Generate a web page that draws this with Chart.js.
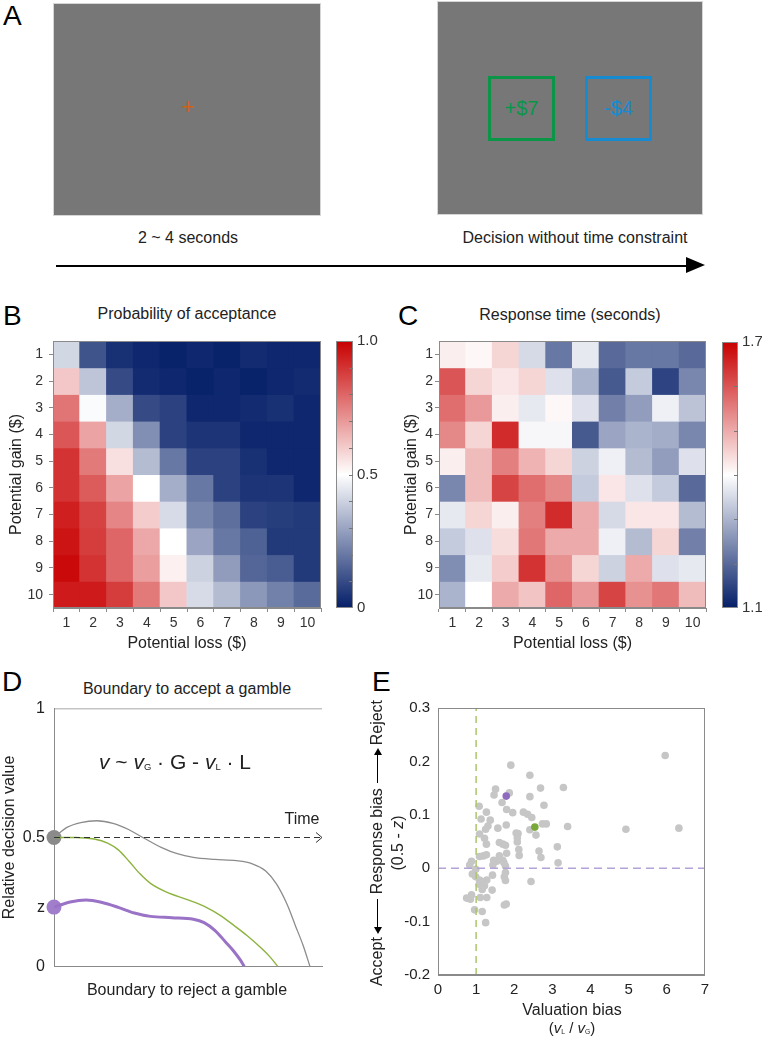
<!DOCTYPE html>
<html>
<head>
<meta charset="utf-8">
<title>Gamble task figure</title>
<script src="https://cdn.jsdelivr.net/npm/chart.js"></script>
<style>
  body { margin: 0; background: #fff; font-family: 'Liberation Sans', Arial, sans-serif; color: #222; }
  #fig { position: relative; width: 762px; height: 1040px; overflow: hidden; background: #fff; }
  canvas { position: absolute; }
  .t { position: absolute; line-height: 1; white-space: nowrap; text-align: center; }
  .letter { position: absolute; font-size: 28px; line-height: 1; color: #000; }
  .screen { position: absolute; background: #777; border: 1px solid #d6d6d6; box-sizing: border-box; }
  .box { position: absolute; box-sizing: border-box; border: 3px solid; font-size: 20px; display: flex; align-items: center; justify-content: center; }
  .rot { position: absolute; width: 320px; height: 20px; line-height: 20px; font-size: 16px; text-align: center; white-space: nowrap; transform: rotate(-90deg); }
  .arr { display: inline-block; position: relative; width: 33px; height: 1.4px; background: #000; vertical-align: middle; margin: 0 5px; }
  .arr.l::before { content: ''; position: absolute; left: -2px; top: -3.3px; border-right: 7px solid #000; border-top: 4px solid transparent; border-bottom: 4px solid transparent; }
  .arr.r::after { content: ''; position: absolute; right: -2px; top: -3.3px; border-left: 7px solid #000; border-top: 4px solid transparent; border-bottom: 4px solid transparent; }
  sub { font-size: 0.45em; vertical-align: baseline; position: relative; top: 0.1em; }
</style>
</head>
<body>
<div id="fig">
  <!-- A: task screens -->
  <div class="letter" style="left:3px;top:2px">A</div>
  <div class="screen" style="left:53px;top:3px;width:268px;height:213px"></div>
  <div class="t" style="left:168px;top:96px;width:40px;font-size:22px;color:#d0620e">+</div>
  <div class="screen" style="left:437px;top:1px;width:266px;height:214px"></div>
  <div class="box" style="left:488px;top:76px;width:67px;height:65px;border-color:#0b9647;color:#0b9647">+$7</div>
  <div class="box" style="left:585px;top:76px;width:67px;height:65px;border-color:#168bd2;color:#168bd2">-$4</div>
  <div class="t" style="left:88px;top:230px;width:200px;font-size:16px">2 ~ 4 seconds</div>
  <div class="t" style="left:425px;top:230px;width:300px;font-size:16px">Decision without time constraint</div>
  <div style="position:absolute;left:56px;top:264.5px;width:632px;height:2px;background:#000"></div>
  <div style="position:absolute;left:686px;top:257px;width:0;height:0;border-left:19px solid #000;border-top:8.5px solid transparent;border-bottom:8.5px solid transparent"></div>

  <!-- B / C headings -->
  <div class="letter" style="left:3px;top:302px">B</div>
  <div class="t" style="left:37px;top:306px;width:300px;font-size:16px">Probability of acceptance</div>
  <div class="letter" style="left:398px;top:302px">C</div>
  <div class="t" style="left:420px;top:307px;width:300px;font-size:16px">Response time (seconds)</div>

  <canvas id="heatB" width="323" height="330" style="left:0;top:325px"></canvas>
  <canvas id="barB" width="60" height="300" style="left:326px;top:325px"></canvas>
  <canvas id="heatC" width="328" height="330" style="left:380px;top:325px"></canvas>
  <canvas id="barC" width="50" height="300" style="left:712px;top:325px"></canvas>

  <!-- D -->
  <div class="letter" style="left:2px;top:668px">D</div>
  <div class="t" style="left:37px;top:681px;width:300px;font-size:16px">Boundary to accept a gamble</div>
  <canvas id="chartD" width="330" height="295" style="left:0;top:690px"></canvas>
  <div class="t" style="left:75px;top:750px;width:200px;font-size:21px;line-height:24px"><i>v</i> ~ <i>v</i><sub>G</sub> · G - <i>v</i><sub>L</sub> · L</div>
  <div class="t" style="left:262px;top:811px;width:80px;font-size:16px">Time</div>
  <div class="t" style="left:37px;top:982px;width:300px;font-size:16px">Boundary to reject a gamble</div>

  <!-- E -->
  <div class="letter" style="left:372px;top:668px">E</div>
  <canvas id="chartE" width="335" height="320" style="left:380px;top:690px"></canvas>
  <div class="rot" style="left:217px;top:833px">Accept<span class="arr l"></span>Response bias<span class="arr r"></span>Reject</div>
  <div class="rot" style="left:238px;top:833px">(0.5 - <i>z</i>)</div>
  <div class="t" style="left:472px;top:1002px;width:200px;font-size:16px">Valuation bias</div>
  <div class="t" style="left:472px;top:1020px;width:200px;font-size:15px">(<i>v</i><sub>L</sub> / <i>v</i><sub>G</sub>)</div>
</div>

<script>
// ---- data ----
const losses = ['1', '2', '3', '4', '5', '6', '7', '8', '9', '10'];
const gains = ['1', '2', '3', '4', '5', '6', '7', '8', '9', '10'];

// rows = potential gain 1..10, columns = potential loss 1..10
const acceptProb = [
  [0.41, 0.12, 0.04, 0.02, 0.01, 0.02, 0.01, 0.03, 0.02, 0.02],
  [0.61, 0.37, 0.10, 0.03, 0.02, 0.01, 0.02, 0.01, 0.02, 0.03],
  [0.77, 0.49, 0.32, 0.10, 0.08, 0.02, 0.02, 0.03, 0.04, 0.02],
  [0.83, 0.68, 0.41, 0.25, 0.08, 0.05, 0.05, 0.02, 0.02, 0.02],
  [0.90, 0.76, 0.56, 0.35, 0.20, 0.08, 0.08, 0.04, 0.02, 0.02],
  [0.90, 0.82, 0.68, 0.50, 0.32, 0.20, 0.08, 0.05, 0.05, 0.02],
  [0.94, 0.87, 0.74, 0.60, 0.42, 0.23, 0.18, 0.08, 0.07, 0.06],
  [0.96, 0.88, 0.80, 0.67, 0.50, 0.30, 0.20, 0.15, 0.06, 0.06],
  [0.98, 0.90, 0.80, 0.69, 0.53, 0.40, 0.28, 0.16, 0.14, 0.06],
  [0.95, 0.95, 0.88, 0.76, 0.61, 0.42, 0.35, 0.27, 0.22, 0.17]
];
const responseTime = [
  [1.42, 1.41, 1.45, 1.35, 1.22, 1.37, 1.20, 1.22, 1.22, 1.20],
  [1.60, 1.45, 1.43, 1.45, 1.36, 1.30, 1.18, 1.33, 1.15, 1.24],
  [1.57, 1.52, 1.42, 1.37, 1.41, 1.36, 1.23, 1.27, 1.38, 1.32],
  [1.54, 1.45, 1.65, 1.39, 1.39, 1.18, 1.28, 1.30, 1.29, 1.24],
  [1.42, 1.48, 1.55, 1.49, 1.45, 1.34, 1.38, 1.31, 1.27, 1.36],
  [1.24, 1.48, 1.62, 1.57, 1.54, 1.33, 1.43, 1.36, 1.33, 1.20],
  [1.37, 1.45, 1.42, 1.55, 1.65, 1.50, 1.35, 1.43, 1.43, 1.31],
  [1.33, 1.36, 1.44, 1.56, 1.50, 1.50, 1.38, 1.31, 1.45, 1.23],
  [1.25, 1.37, 1.46, 1.64, 1.53, 1.45, 1.34, 1.50, 1.36, 1.37],
  [1.30, 1.40, 1.50, 1.47, 1.58, 1.52, 1.62, 1.53, 1.56, 1.48]
];
const accLimits = [0, 1];
const accBarTicks = [0, 0.5, 1];
const accBarLabels = ['0', '0.5', '1.0'];
const accBarMinor = [0.1, 0.2, 0.3, 0.4, 0.5, 0.6, 0.7, 0.8, 0.9];
const rtLimits = [1.1, 1.7];
const rtBarTicks = [1.1, 1.7];
const rtBarLabels = ['1.1', '1.7'];
const rtBarMinor = [1.2, 1.3, 1.4, 1.5, 1.6];

// D: schematic drift paths, x = time (0..100), y = relative decision value
const zStart = 0.23;
const decisionTicks = [0, zStart, 0.5, 1];
const decisionLabels = ['0', 'z', '0.5', '1'];
const acceptBound = [[0, 1], [100, 1]];
const timeArrow = [[0, 0.5], [100, 0.5]];
const greyPath = [[0, 0.5], [5, 0.54], [10, 0.558], [16, 0.565], [22, 0.555], [28, 0.53], [34, 0.495],
  [40, 0.462], [46, 0.437], [52, 0.423], [60, 0.415], [68, 0.41], [74, 0.398], [79, 0.37],
  [83, 0.32], [87, 0.24], [90, 0.16], [93, 0.08], [95.5, 0]];
const greenPath = [[0, 0.5], [8, 0.5], [15, 0.494], [20, 0.478], [24, 0.452], [28, 0.408], [32, 0.36],
  [36, 0.322], [42, 0.288], [50, 0.258], [57, 0.228], [62, 0.198], [67, 0.16], [72, 0.12],
  [77, 0.074], [80.5, 0.038], [83.5, 0]];
const purplePath = [[0, zStart], [6, 0.25], [12, 0.258], [18, 0.248], [24, 0.229], [30, 0.207], [36, 0.194],
  [44, 0.189], [52, 0.183], [56, 0.17], [60, 0.14], [64, 0.095], [67, 0.06], [69.5, 0.025], [71, 0]];
const greyStart = [[0, 0.5]];
const purpleStart = [[0, zStart]];

// E: valuation bias (x) vs response bias (y) per participant
const participants = [
  [5.96, 0.211], [1.91, 0.193], [2.41, 0.174], [1.51, 0.148], [2.69, 0.150], [3.29, 0.151], [1.87, 0.141],
  [1.47, 0.137], [2.41, 0.134], [1.68, 0.123], [2.78, 0.118], [1.08, 0.116], [1.80, 0.110], [1.27, 0.105],
  [1.96, 0.104], [2.24, 0.105], [2.35, 0.101], [2.46, 0.095], [1.13, 0.092], [1.37, 0.090], [1.31, 0.079],
  [1.79, 0.081], [2.74, 0.083], [2.84, 0.083], [3.40, 0.078], [1.25, 0.073], [1.57, 0.075], [2.41, 0.072],
  [1.09, 0.064], [2.05, 0.066], [2.10, 0.065], [2.08, 0.057], [2.08, 0.049], [2.12, 0.035], [2.13, 0.024],
  [1.22, 0.056], [1.27, 0.045], [1.61, 0.048], [1.70, 0.045], [1.77, 0.043], [2.57, 0.062], [2.65, 0.032],
  [3.13, 0.040], [2.70, 0.020], [3.15, 0.010], [1.80, 0.028], [1.09, 0.022], [1.19, 0.023], [1.27, 0.025],
  [1.61, 0.023], [1.46, 0.015], [1.54, 0.013], [1.70, 0.015], [0.88, 0.013], [0.83, 0.006], [0.99, -0.002],
  [1.44, 0.006], [1.77, 0.004], [1.73, 0.010], [1.77, -0.008], [1.74, -0.016], [1.77, -0.023], [0.90, -0.011],
  [0.99, -0.016], [1.09, -0.022], [1.08, -0.030], [1.16, -0.025], [1.22, -0.033], [1.16, -0.040], [1.28, -0.022],
  [1.43, -0.013], [2.44, -0.025], [1.42, -0.041], [0.75, -0.056], [0.85, -0.058], [0.88, -0.050], [1.11, -0.055],
  [1.28, -0.055], [1.79, -0.067], [1.74, -0.069], [0.96, -0.078], [1.16, -0.081], [1.25, -0.102],
  [4.93, 0.073], [6.32, 0.075]
];
const examplePurple = [[1.79, 0.135]];
const exampleGreen = [[2.54, 0.077]];
const unitValuation = [[1, -0.2], [1, 0.3]];
const zeroResponse = [[0, 0], [7, 0]];

// ---- helpers ----
Chart.defaults.font.family = "'Liberation Sans', Arial, sans-serif";
Chart.defaults.color = '#222';
Chart.defaults.animation = false;
Chart.defaults.plugins.legend.display = false;
Chart.defaults.plugins.tooltip.enabled = false;

const cLow = [4, 30, 104], cMid = [255, 255, 255], cHigh = [200, 0, 0];
function rgb(c) { return 'rgb(' + c.map(Math.round).join(',') + ')'; }
function cmap(t) {
  t = Math.max(0, Math.min(1, t));
  const a = t < 0.5 ? cLow : cMid, b = t < 0.5 ? cMid : cHigh;
  const u = t < 0.5 ? t * 2 : (t - 0.5) * 2;
  return rgb(a.map((c, i) => c + (b[i] - c) * u));
}
const xy = arr => arr.map(p => ({ x: p[0], y: p[1] }));
const axisGrey = '#8a8a8a';

const framePlugin = {
  id: 'frame',
  afterDatasetsDraw(chart, args, opts) {
    if (!opts.color) return;
    const { ctx, chartArea: a } = chart;
    ctx.save();
    ctx.strokeStyle = opts.color;
    ctx.lineWidth = 1;
    ctx.strokeRect(Math.round(a.left) + 0.5, Math.round(a.top) + 0.5, Math.round(a.width) - 1, Math.round(a.height) - 1);
    ctx.restore();
  }
};

const minorTickPlugin = {
  id: 'minorTicks',
  afterDatasetsDraw(chart, args, opts) {
    if (!opts.values) return;
    const { ctx, chartArea: a } = chart;
    const s = chart.scales.y;
    ctx.save();
    ctx.strokeStyle = '#777';
    ctx.lineWidth = 1;
    opts.values.forEach(v => {
      const y = Math.round(s.getPixelForValue(v)) + 0.5;
      ctx.beginPath();
      ctx.moveTo(a.right - 4, y);
      ctx.lineTo(a.right, y);
      ctx.stroke();
    });
    ctx.restore();
  }
};

const arrowPlugin = {
  id: 'arrowEnd',
  afterDatasetsDraw(chart) {
    const { ctx } = chart;
    chart.data.datasets.forEach((ds, i) => {
      if (!ds.arrowEnd) return;
      const pts = chart.getDatasetMeta(i).data;
      const p = pts[pts.length - 1];
      ctx.save();
      ctx.strokeStyle = ds.borderColor;
      ctx.lineWidth = 1;
      ctx.beginPath();
      ctx.moveTo(p.x - 6, p.y - 5);
      ctx.lineTo(p.x, p.y);
      ctx.lineTo(p.x - 6, p.y + 5);
      ctx.stroke();
      ctx.restore();
    });
  }
};

function heatmap(id, matrix, lim, yWidth, titlePad, tickPad) {
  return new Chart(document.getElementById(id), {
    type: 'bar',
    data: {
      labels: losses,
      datasets: matrix.map((row, r) => ({
        label: 'Gain ' + gains[r],
        data: row.map(() => 1),
        backgroundColor: row.map(v => cmap((v - lim[0]) / (lim[1] - lim[0]))),
        borderWidth: 0,
        inflateAmount: 0.5,
        barPercentage: 1,
        categoryPercentage: 1
      }))
    },
    options: {
      responsive: false,
      devicePixelRatio: 1,
      layout: { padding: { top: 16, right: 2, bottom: 0, left: 0 } },
      plugins: { frame: { color: axisGrey } },
      scales: {
        x: {
          stacked: true,
          grid: { drawOnChartArea: false, tickLength: 4, color: axisGrey },
          border: { color: axisGrey },
          ticks: { font: { size: 14 }, color: '#333', padding: 3 },
          title: { display: true, text: 'Potential loss ($)', font: { size: 16 }, color: '#222', padding: { top: 0, bottom: 2 } },
          afterFit: s => { s.height = 47; }
        },
        y: {
          stacked: true, min: 0, max: 10, reverse: true,
          grid: { drawOnChartArea: false, tickLength: 4, color: axisGrey },
          border: { color: axisGrey },
          afterBuildTicks: s => { s.ticks = gains.map((g, i) => ({ value: i + 0.5 })); },
          ticks: { font: { size: 14 }, color: '#333', padding: tickPad, callback: v => gains[Math.floor(v)] },
          title: { display: true, text: 'Potential gain ($)', font: { size: 16 }, color: '#222', padding: { top: titlePad, bottom: 0 } },
          afterFit: s => { s.width = yWidth; }
        }
      }
    },
    plugins: [framePlugin]
  });
}

function colorbar(id, lim, tickVals, tickLabels, minor, pad, yWidth) {
  return new Chart(document.getElementById(id), {
    type: 'bar',
    data: {
      labels: [''],
      datasets: [{
        data: [[lim[0], lim[1]]],
        backgroundColor: c => {
          const { ctx, chartArea } = c.chart;
          if (!chartArea) return rgb(cMid);
          const g = ctx.createLinearGradient(0, chartArea.bottom, 0, chartArea.top);
          g.addColorStop(0, rgb(cLow));
          g.addColorStop(0.5, rgb(cMid));
          g.addColorStop(1, rgb(cHigh));
          return g;
        },
        borderWidth: 0,
        barPercentage: 1,
        categoryPercentage: 1
      }]
    },
    options: {
      responsive: false,
      devicePixelRatio: 1,
      layout: { padding: pad },
      plugins: { frame: { color: axisGrey }, minorTicks: { values: minor } },
      scales: {
        x: { display: false },
        y: {
          position: 'right', min: lim[0], max: lim[1],
          grid: { display: false, drawTicks: false },
          border: { display: false },
          afterBuildTicks: s => { s.ticks = tickVals.map(v => ({ value: v })); },
          ticks: { font: { size: 15 }, color: '#333', padding: 4, callback: (v, i) => tickLabels[i] },
          afterFit: s => { s.width = yWidth; }
        }
      }
    },
    plugins: [framePlugin, minorTickPlugin]
  });
}

heatmap('heatB', acceptProb, accLimits, 53, 7, 6);
heatmap('heatC', responseTime, rtLimits, 59, 22, 2);
colorbar('barB', accLimits, accBarTicks, accBarLabels, accBarMinor, { top: 16, bottom: 17, left: 10, right: 0 }, 33);
colorbar('barC', rtLimits, rtBarTicks, rtBarLabels, rtBarMinor, { top: 17, bottom: 17, left: 10, right: 0 }, 24);

// D: drift-diffusion sketch
const line = (data, color, width, extra) => Object.assign({
  data: xy(data), showLine: true, borderColor: color, borderWidth: width,
  pointRadius: 0, cubicInterpolationMode: 'monotone'
}, extra || {});

new Chart(document.getElementById('chartD'), {
  type: 'scatter',
  data: {
    datasets: [
      line(acceptBound, axisGrey, 1.2),
      line(timeArrow, '#333', 1, { borderDash: [6, 4], arrowEnd: true }),
      line(greyPath, '#8c8c8c', 1.3),
      line(greenPath, '#8db33f', 1.4),
      line(purplePath, '#9a72c6', 3),
      { data: xy(greyStart), pointRadius: 7.5, backgroundColor: '#8a8a8a', borderWidth: 0, clip: false },
      { data: xy(purpleStart), pointRadius: 7.5, backgroundColor: '#a17ecc', borderWidth: 0, clip: false }
    ]
  },
  options: {
    responsive: false,
    devicePixelRatio: 1,
    layout: { padding: { top: 16, right: 8, bottom: 14, left: 0 } },
    scales: {
      x: {
        type: 'linear', min: 0, max: 100,
        grid: { display: false, drawTicks: false },
        ticks: { display: false },
        border: { color: axisGrey },
        afterFit: s => { s.height = 1; }
      },
      y: {
        min: 0, max: 1,
        grid: { display: false, drawTicks: false },
        border: { color: axisGrey },
        afterBuildTicks: s => { s.ticks = decisionTicks.map(v => ({ value: v })); },
        ticks: { font: { size: 16 }, color: '#222', padding: 9, callback: (v, i) => decisionLabels[i] },
        title: { display: true, text: 'Relative decision value', font: { size: 16 }, color: '#222', padding: { top: 0, bottom: 0 } },
        afterFit: s => { s.width = 54; }
      }
    }
  },
  plugins: [arrowPlugin]
});

// E: scatter of biases
new Chart(document.getElementById('chartE'), {
  type: 'scatter',
  data: {
    datasets: [
      { data: xy(participants), backgroundColor: '#c6c6c6', pointRadius: 3.8, borderWidth: 0, order: 2 },
      line(unitValuation, '#a9c76a', 1.5, { borderDash: [7, 5], order: 1, cubicInterpolationMode: 'default' }),
      line(zeroResponse, '#b3a3d6', 1.5, { borderDash: [8, 5], order: 1, cubicInterpolationMode: 'default' }),
      { data: xy(examplePurple), backgroundColor: '#8d6bbf', pointRadius: 3.8, borderWidth: 0, order: 0 },
      { data: xy(exampleGreen), backgroundColor: '#78a83a', pointRadius: 3.8, borderWidth: 0, order: 0 }
    ]
  },
  options: {
    responsive: false,
    devicePixelRatio: 1,
    layout: { padding: { top: 18, right: 8, bottom: 0, left: 0 } },
    plugins: { frame: { color: axisGrey } },
    scales: {
      x: {
        min: 0, max: 7,
        grid: { display: false, drawTicks: false },
        border: { color: axisGrey },
        ticks: { stepSize: 1, font: { size: 15 }, color: '#222', padding: 6 },
        afterFit: s => { s.height = 35; }
      },
      y: {
        min: -0.2, max: 0.3,
        grid: { display: false, drawTicks: false },
        border: { color: axisGrey },
        ticks: { stepSize: 0.1, font: { size: 15 }, color: '#222', padding: 8,
          callback: v => String(Math.round(v * 10) / 10) },
        afterFit: s => { s.width = 58; }
      }
    }
  },
  plugins: [framePlugin]
});
</script>
</body>
</html>
